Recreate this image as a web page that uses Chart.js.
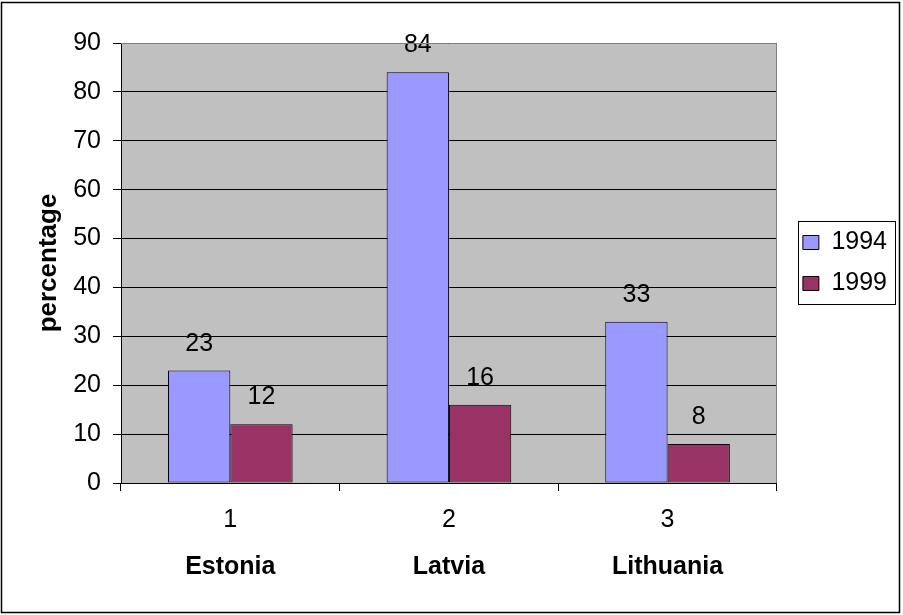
<!DOCTYPE html>
<html>
<head>
<meta charset="utf-8">
<script src="https://cdn.jsdelivr.net/npm/chart.js@4/dist/chart.umd.min.js"></script>
<style>
  html, body { margin: 0; padding: 0; background: #fff; overflow: hidden; }
  #wrap { width: 903px; height: 615px; }
</style>
</head>
<body>
<div id="wrap"><canvas id="chart" width="903" height="615"></canvas></div>
<script>
// Category numbers and country names shown under the bars
const categoryNumbers = ['1', '2', '3'];
const countries = ['Estonia', 'Latvia', 'Lithuania'];

// Series
const seriesNames = ['1994', '1999'];
const values1994 = [23, 84, 33];
const values1999 = [12, 16, 8];

// Value axis
const yMin = 0;
const yMax = 90;
const yStep = 10;
const yTitle = 'percentage';

Chart.defaults.font.family = "'Liberation Sans', Arial, sans-serif";
Chart.defaults.color = '#000';

// Plot background, frame lines, legend box and outer border
const framePlugin = {
  id: 'frame',
  beforeDraw(chart) {
    const { ctx, chartArea: a } = chart;
    ctx.save();
    ctx.fillStyle = '#ffffff';
    ctx.fillRect(0, 0, chart.width, chart.height);
    ctx.fillStyle = '#C0C0C0';
    ctx.fillRect(a.left, a.top, a.right - a.left, a.bottom - a.top);
    ctx.restore();
  },
  afterLayout(chart) {
    // leave a small gap between the plot and the legend
    const lg = chart.legend;
    const w = lg.width;
    lg.left = chart.chartArea.right + 10;
    lg.right = lg.left + w;
  },
  afterDraw(chart) {
    const { ctx, chartArea: a } = chart;
    ctx.save();
    ctx.lineWidth = 1;
    // top and right edges of the plot area
    ctx.strokeStyle = '#808080';
    ctx.beginPath();
    ctx.moveTo(a.left, Math.round(a.top) + 0.5);
    ctx.lineTo(Math.round(a.right) - 0.5, Math.round(a.top) + 0.5);
    ctx.lineTo(Math.round(a.right) - 0.5, Math.round(a.bottom));
    ctx.stroke();

    // legend frame
    const boxes = chart.legend.legendHitBoxes;
    if (boxes && boxes.length) {
      const left = Math.min(...boxes.map(b => b.left)) - 5;
      const right = Math.max(...boxes.map(b => b.left + b.width)) + 8;
      const top = boxes[0].top - 9;
      const last = boxes[boxes.length - 1];
      const bottom = last.top + last.height + 8;
      ctx.strokeStyle = '#000';
      ctx.strokeRect(Math.round(left) + 0.5, Math.round(top) + 0.5,
                     Math.round(right - left), Math.round(bottom - top));
    }

    // outer border of the whole chart
    ctx.strokeStyle = '#000';
    ctx.lineWidth = 1.5;
    ctx.strokeRect(1.5, 2.5, 898, 610);
    ctx.restore();
  }
};

// Value labels above each bar
const valueLabels = {
  id: 'valueLabels',
  afterDatasetsDraw(chart) {
    const ctx = chart.ctx;
    ctx.save();
    ctx.font = "25px 'Liberation Sans', Arial, sans-serif";
    ctx.fillStyle = '#000';
    ctx.textAlign = 'center';
    ctx.textBaseline = 'alphabetic';
    chart.data.datasets.forEach((ds, i) => {
      chart.getDatasetMeta(i).data.forEach((bar, j) => {
        ctx.fillText(String(ds.data[j]), bar.x, bar.y - 20);
      });
    });
    ctx.restore();
  }
};

new Chart(document.getElementById('chart'), {
  type: 'bar',
  data: {
    labels: categoryNumbers,
    datasets: [
      {
        label: seriesNames[0],
        data: values1994,
        backgroundColor: '#9999FF',
        borderColor: '#000',
        borderWidth: 1,
        borderSkipped: false,
        categoryPercentage: 0.57,
        barPercentage: 1.0
      },
      {
        label: seriesNames[1],
        data: values1999,
        backgroundColor: '#993366',
        borderColor: '#000',
        borderWidth: 1,
        borderSkipped: false,
        categoryPercentage: 0.57,
        barPercentage: 1.0
      }
    ]
  },
  options: {
    responsive: false,
    animation: false,
    events: [],
    layout: { padding: { left: 0, top: 43, right: 16, bottom: 0 } },
    plugins: {
      tooltip: { enabled: false },
      legend: {
        position: 'right',
        align: 'center',
        fullSize: false,
        labels: {
          boxWidth: 16,
          boxHeight: 14,
          padding: 16,
          color: '#000',
          font: { size: 25 }
        }
      }
    },
    scales: {
      x: {
        type: 'category',
        labels: categoryNumbers,
        position: 'bottom',
        offset: true,
        grid: { offset: true, drawOnChartArea: false, drawTicks: true, tickLength: 8, color: '#000' },
        border: { color: '#000', width: 1 },
        ticks: { font: { size: 25 }, color: '#000', padding: 14, maxRotation: 0, autoSkip: false },
        afterFit(scale) { scale.height = 52; }
      },
      x2: {
        type: 'category',
        labels: countries,
        position: 'bottom',
        offset: true,
        grid: { display: false, drawTicks: false },
        border: { display: false },
        ticks: { font: { size: 25, weight: 'bold' }, color: '#000', padding: 17, maxRotation: 0, autoSkip: false },
        afterFit(scale) { scale.height = 80; }
      },
      y: {
        min: yMin,
        max: yMax,
        ticks: { stepSize: yStep, font: { size: 25 }, color: '#000', padding: 12 },
        grid: { color: '#000', tickLength: 8 },
        border: { color: '#000' },
        title: {
          display: true,
          text: yTitle,
          color: '#000',
          font: { size: 26, weight: 'bold' },
          padding: { top: 33, bottom: 0 }
        },
        afterFit(scale) { scale.width = 121; }
      }
    }
  },
  plugins: [framePlugin, valueLabels]
});
</script>
</body>
</html>
